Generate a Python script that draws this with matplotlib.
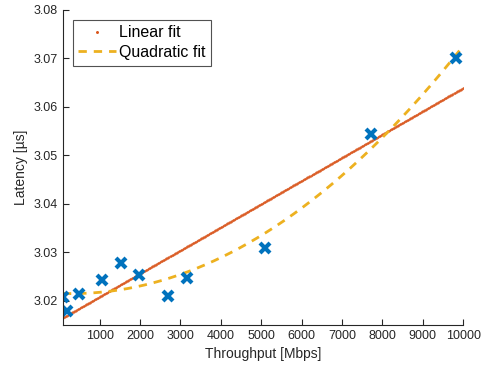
import numpy as np
import matplotlib
matplotlib.use('Agg')
import matplotlib.pyplot as plt

plt.rcParams['font.family'] = ['Liberation Sans', 'DejaVu Sans']

# measured points (throughput in Mbps, latency in us)
throughput = [90, 198, 479, 1050, 1521, 1975, 2687, 3159, 5094, 7727, 9834]
latency = [3.0207, 3.0179, 3.0213, 3.0243, 3.0278, 3.0253, 3.0210, 3.0248, 3.0308, 3.0544, 3.0700]

x = np.array(throughput, dtype=float)
y = np.array(latency)

p1 = np.polyfit(x, y, 1)
p2 = np.polyfit(x, y, 2)
xf = np.linspace(x.min(), 10000, 600)

fig = plt.figure(figsize=(4.84, 3.67), dpi=100)
ax = fig.add_axes([0.130, 0.1144, 0.827, 0.8584])

ax.plot(xf, np.polyval(p1, xf), '.', color='#D95319', markersize=0.9, label='Linear fit')
ax.plot(xf, np.polyval(p2, xf), '--', color='#EDB120', linewidth=2, dashes=(3, 2.5), label='Quadratic fit')
ax.plot(x, y, 'x', color='#0072BD', markersize=7, markeredgewidth=3, label='_nolegend_')

ax.set_xlim(x.min(), 10000)
ax.set_ylim(3.015, 3.08)
ax.set_xticks(range(1000, 10001, 1000))
ax.set_yticks([3.02, 3.03, 3.04, 3.05, 3.06, 3.07, 3.08])
ax.spines['top'].set_visible(False)
ax.spines['right'].set_visible(False)
ax.tick_params(direction='in', labelsize=9, colors='#262626', length=4)
for s in ['left', 'bottom']:
    ax.spines[s].set_color('#262626')
ax.set_xlabel('Throughput [Mbps]', fontsize=10, color='#262626')
ax.set_ylabel('Latency [µs]', fontsize=10, color='#262626')

leg = ax.legend(loc='upper left', fontsize=11.5, frameon=True, fancybox=False,
                edgecolor='#262626', borderpad=0.35, handlelength=2.4,
                handletextpad=0.15, borderaxespad=0.6, labelspacing=0.3,
                markerscale=2.5)
leg.get_frame().set_linewidth(0.8)
# matlab-style legend box has extra room on the right
fr = leg.get_frame()
fig.canvas.draw()
fr.set_width(fr.get_width() + 15)

plt.savefig('out.png')
